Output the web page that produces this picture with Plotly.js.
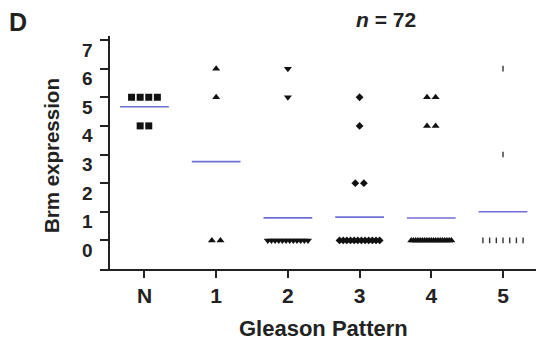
<!DOCTYPE html>
<html>
<head>
<meta charset="utf-8">
<script src="https://cdn.plot.ly/plotly-3.0.1.min.js"></script>
<style>
  html, body { margin: 0; padding: 0; background: #fff; }
  #chart { width: 536px; height: 343px; }
</style>
</head>
<body>
<div id="chart"></div>
<script>
// ---- data ----
const categories = ['N', '1', '2', '3', '4', '5'];
const groupN = [5, 5, 5, 5, 4, 4];
const group1 = [6, 5, 0, 0];
const group2 = [6, 5, 0, 0, 0, 0, 0, 0, 0, 0, 0, 0, 0, 0];
const group3 = [5, 4, 2, 2, 0, 0, 0, 0, 0, 0, 0, 0, 0, 0, 0, 0];
const group4 = [5, 5, 4, 4, 0, 0, 0, 0, 0, 0, 0, 0, 0, 0, 0, 0, 0, 0, 0, 0, 0, 0, 0];
const group5 = [6, 3, 0, 0, 0, 0, 0, 0, 0];
const yTicks = [0, 1, 2, 3, 4, 5, 6, 7];
const sampleSize = 72;

const groups = [groupN, group1, group2, group3, group4, group5];
const symbols = ['square', 'triangle-up', 'triangle-down', 'diamond', 'triangle-up', 'line-ns'];
const sizes = [7, 7, 7, 6, 7, 4];

// horizontal spreading of tied values (column scatter)
function spread(values, gi) {
  const counts = {};
  values.forEach(v => { counts[v] = (counts[v] || 0) + 1; });
  const seen = {};
  return values.map(v => {
    const k = counts[v];
    const i = (seen[v] = (seen[v] || 0) + 1) - 1;
    const step = k > 1 ? Math.min(0.12, 0.56 / (k - 1)) : 0;
    return gi + (i - (k - 1) / 2) * step;
  });
}

const traces = [];
groups.forEach((vals, gi) => {
  const isDash = symbols[gi] === 'line-ns';
  traces.push({
    type: 'scatter', mode: 'markers',
    x: spread(vals, gi), y: vals,
    marker: {
      symbol: symbols[gi], size: sizes[gi], color: '#111',
      line: { width: isDash ? 1.4 : 0, color: '#333' }
    },
    hoverinfo: 'skip', showlegend: false, cliponaxis: false
  });
});

// mean lines
const mx = [], my = [];
groups.forEach((vals, gi) => {
  const m = vals.reduce((a, b) => a + b, 0) / vals.length;
  mx.push(gi - 0.34, gi + 0.34, null);
  my.push(m, m, null);
});
traces.push({
  type: 'scatter', mode: 'lines', x: mx, y: my,
  line: { color: '#6f6fd6', width: 1.6 },
  hoverinfo: 'skip', showlegend: false
});

const bold = { family: 'Liberation Sans, Arial, sans-serif', color: '#222', weight: 'bold' };

// y tick labels sit a little below their tick marks in the reference
const yLabelAnn = yTicks.map(v => ({
  text: String(v), xref: 'paper', yref: 'y', x: -0.0115, y: v, yshift: -10,
  xanchor: 'right', yanchor: 'middle', showarrow: false,
  font: Object.assign({ size: 19 }, bold)
}));

const layout = {
  width: 536, height: 343,
  margin: { l: 100, r: 0, t: 36, b: 74 },
  paper_bgcolor: '#fff', plot_bgcolor: '#fff',
  xaxis: {
    range: [-0.62, 5.46],
    tickvals: categories.map((c, i) => i),
    ticktext: categories,
    showline: true, linecolor: '#222', linewidth: 2,
    ticks: 'outside', ticklen: 7, tickwidth: 2, tickcolor: '#222',
    showgrid: false, zeroline: false,
    tickfont: Object.assign({ size: 21 }, bold),
    fixedrange: true
  },
  yaxis: {
    range: [-1, 7.14],
    anchor: 'free', position: 9 / 436,
    tickvals: yTicks,
    showticklabels: false,
    showline: true, linecolor: '#222', linewidth: 2,
    ticks: 'outside', ticklen: 8, tickwidth: 2, tickcolor: '#222',
    showgrid: false, zeroline: false,
    fixedrange: true
  },
  annotations: yLabelAnn.concat([
    { text: 'D', xref: 'paper', yref: 'paper', x: -0.187, y: 1.062,
      xanchor: 'center', yanchor: 'middle', showarrow: false,
      font: Object.assign({ size: 25 }, bold) },
    { text: '<i>n</i> = ' + sampleSize, xref: 'paper', yref: 'paper', x: 0.656, y: 1.071,
      xanchor: 'center', yanchor: 'middle', showarrow: false,
      font: Object.assign({ size: 21 }, bold) },
    { text: 'Brm expression', xref: 'paper', yref: 'paper', x: -0.110, y: 0.485,
      xanchor: 'center', yanchor: 'middle', showarrow: false, textangle: -90,
      font: Object.assign({ size: 20.5 }, bold) },
    { text: 'Gleason Pattern', xref: 'paper', yref: 'paper', x: 0.512, y: -0.257,
      xanchor: 'center', yanchor: 'middle', showarrow: false,
      font: Object.assign({ size: 22 }, bold) }
  ])
};

Plotly.newPlot('chart', traces, layout, { displayModeBar: false, staticPlot: true });
</script>
</body>
</html>
